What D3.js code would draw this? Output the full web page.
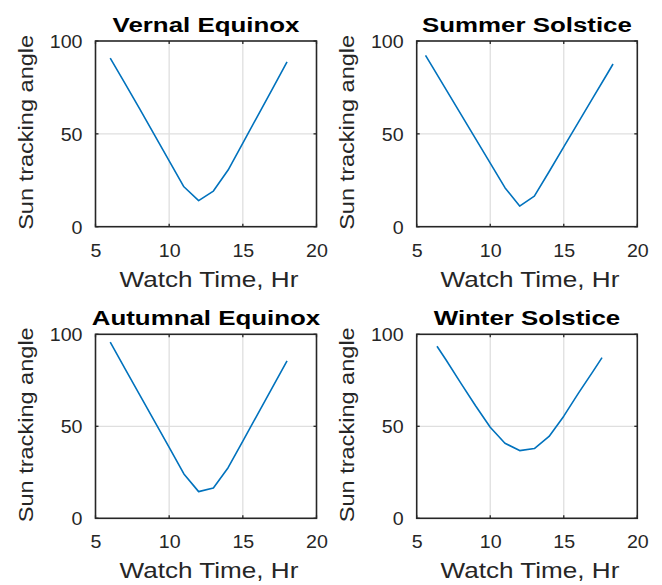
<!DOCTYPE html>
<html>
<head>
<meta charset="utf-8">
<script src="https://cdn.jsdelivr.net/npm/d3@7"></script>
<style>
  html, body { margin: 0; padding: 0; background: #fff; }
  svg { display: block; }
  text { font-family: "Liberation Sans", Arial, Helvetica, sans-serif; }
</style>
</head>
<body>
<svg id="chart" width="662" height="585"></svg>
<script>
// Sun tracking angle over the day for four seasonal dates
const titles = ["Vernal Equinox", "Summer Solstice", "Autumnal Equinox", "Winter Solstice"];

const hoursVernal = [6, 7, 8, 9, 10, 11, 12, 13, 14, 15, 16, 17, 18];
const angleVernal = [90.8, 77.2, 63.5, 49.5, 35.5, 21.5, 14.0, 19.2, 30.5, 45.0, 59.6, 74.1, 88.7];

const hoursSummer = [5.6, 6, 7, 8, 9, 10, 11, 12, 13, 14, 15, 16, 17, 18, 18.35];
const angleSummer = [92.3, 87.0, 73.8, 60.6, 47.4, 34.2, 21.0, 11.1, 16.5, 29.6, 43.0, 56.3, 69.6, 82.9, 87.6];

const hoursAutumn = [6, 7, 8, 9, 10, 11, 12, 13, 14, 15, 16, 17, 18];
const angleAutumn = [95.7, 81.4, 67.1, 52.8, 38.5, 24.1, 14.5, 16.5, 27.5, 42.0, 56.5, 71.0, 85.5];

const hoursWinter = [6.38, 7, 8, 9, 10, 11, 12, 13, 14, 15, 16, 17, 17.6];
const angleWinter = [93.5, 86.0, 73.5, 61.2, 49.5, 40.8, 36.8, 37.9, 44.5, 55.5, 68.0, 80.0, 87.3];

const xTicks = [5, 10, 15, 20];
const yTicks = [0, 50, 100];
const xLabel = "Watch Time, Hr";
const yLabel = "Sun tracking angle";

const seriesHours = [hoursVernal, hoursSummer, hoursAutumn, hoursWinter];
const seriesAngle = [angleVernal, angleSummer, angleAutumn, angleWinter];

// panel boxes: [left, right, top, bottom]
const boxes = [
  [95.5, 316.5, 41, 226.7],
  [416.7, 637.3, 41, 226.7],
  [95.5, 316.5, 334.3, 518.3],
  [416.7, 637.3, 334.3, 518.3]
];

const svg = d3.select("#chart");
const textColor = "#262626";
const lineColor = "#0072BD";
const gridColor = "#dfdfdf";

// widen a text element horizontally by a factor
function widen(sel, factor) {
  sel.each(function () {
    const len = this.getComputedTextLength();
    d3.select(this).attr("textLength", len * factor).attr("lengthAdjust", "spacingAndGlyphs");
  });
}

boxes.forEach((b, i) => {
  const [L, R, T, B] = b;
  const x = d3.scaleLinear().domain([5, 20]).range([L, R]);
  const y = d3.scaleLinear().domain([0, 100]).range([B, T]);
  const g = svg.append("g");

  // grid
  g.append("g").selectAll("line").data(xTicks.slice(1, -1)).join("line")
    .attr("x1", d => x(d)).attr("x2", d => x(d)).attr("y1", T).attr("y2", B)
    .attr("stroke", gridColor).attr("stroke-width", 1.3);
  g.append("g").selectAll("line").data(yTicks.slice(1, -1)).join("line")
    .attr("y1", d => y(d)).attr("y2", d => y(d)).attr("x1", L).attr("x2", R)
    .attr("stroke", gridColor).attr("stroke-width", 1.3);

  // data line
  const pts = seriesHours[i].map((h, k) => [h, seriesAngle[i][k]]);
  g.append("path").datum(pts)
    .attr("fill", "none").attr("stroke", lineColor).attr("stroke-width", 1.6)
    .attr("stroke-linejoin", "round")
    .attr("d", d3.line().x(d => x(d[0])).y(d => y(d[1])));

  // inward ticks on all four sides
  const tl = 3;
  const tk = g.append("g").attr("stroke", textColor).attr("stroke-width", 1.3);
  xTicks.forEach(t => {
    tk.append("line").attr("x1", x(t)).attr("x2", x(t)).attr("y1", B).attr("y2", B - tl);
    tk.append("line").attr("x1", x(t)).attr("x2", x(t)).attr("y1", T).attr("y2", T + tl);
  });
  yTicks.forEach(t => {
    tk.append("line").attr("y1", y(t)).attr("y2", y(t)).attr("x1", L).attr("x2", L + tl);
    tk.append("line").attr("y1", y(t)).attr("y2", y(t)).attr("x1", R).attr("x2", R - tl);
  });

  // box
  g.append("rect").attr("x", L).attr("y", T).attr("width", R - L).attr("height", B - T)
    .attr("fill", "none").attr("stroke", textColor).attr("stroke-width", 1.6);

  // tick labels via axes
  const ax = g.append("g").attr("transform", `translate(0,${B})`)
    .call(d3.axisBottom(x).tickValues(xTicks).tickSize(0).tickPadding(0).tickFormat(d3.format("d")));
  ax.select(".domain").remove();
  ax.selectAll("text").attr("y", 30).attr("dy", null)
    .attr("fill", textColor).attr("font-size", 18).attr("font-family", null);
  widen(ax.selectAll("text"), 1.09);

  const ay = g.append("g").attr("transform", `translate(${L},0)`)
    .call(d3.axisLeft(y).tickValues(yTicks).tickSize(0).tickPadding(0).tickFormat(d3.format("d")));
  ay.select(".domain").remove();
  ay.selectAll("text").attr("x", -13).attr("dy", "0.36em")
    .attr("fill", textColor).attr("font-size", 18).attr("font-family", null);
  widen(ay.selectAll("text"), 1.09);

  // title
  const ttl = g.append("text").attr("x", (L + R) / 2).attr("y", T - 9.5)
    .attr("text-anchor", "middle").attr("font-weight", "bold").attr("font-size", 19.5)
    .attr("fill", "#000").text(titles[i]);
  widen(ttl, 1.326);

  // x label
  const xl = g.append("text").attr("x", (L + R) / 2 + 3).attr("y", B + 60)
    .attr("text-anchor", "middle").attr("font-size", 22.5).attr("fill", textColor).text(xLabel);
  widen(xl, 1.16);

  // y label
  g.append("text")
    .attr("transform", `translate(${L - 62.5},${(T + B) / 2 - 1.5}) rotate(-90)`)
    .attr("text-anchor", "middle").attr("font-size", 21).attr("fill", textColor)
    .attr("textLength", 195).attr("lengthAdjust", "spacingAndGlyphs")
    .text(yLabel);
});
</script>
</body>
</html>
